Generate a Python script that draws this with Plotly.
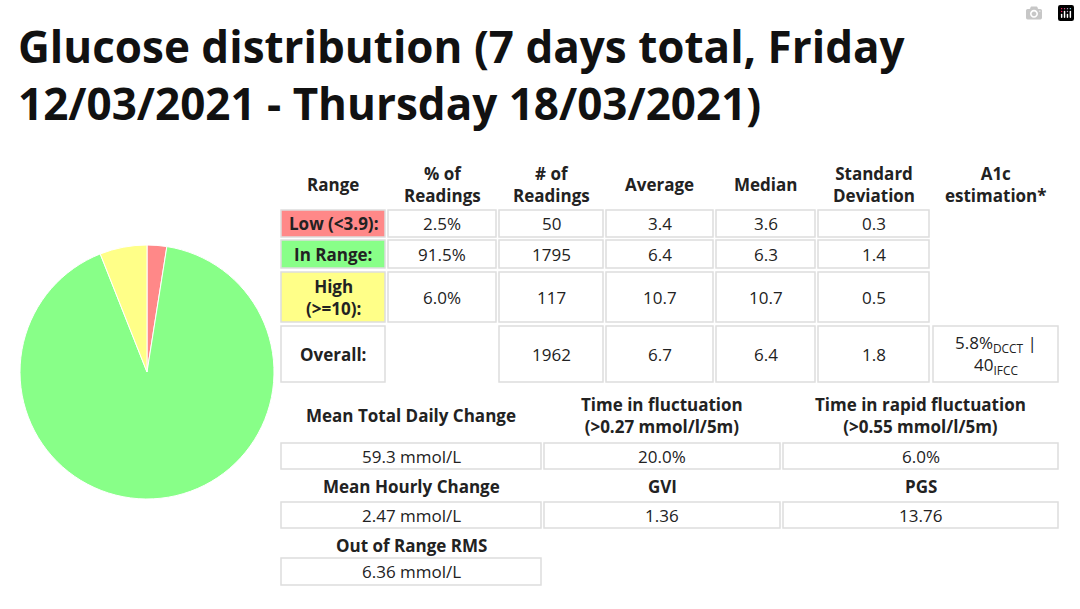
import plotly.graph_objects as go

ranges = ["Low (<3.9):", "In Range:", "High<br>(>=10):", "Overall:"]
pct = ["2.5%", "91.5%", "6.0%", ""]
counts = ["50", "1795", "117", "1962"]
avg = ["3.4", "6.4", "10.7", "6.7"]
med = ["3.6", "6.3", "10.7", "6.4"]
sd = ["0.3", "1.4", "0.5", "1.8"]
a1c = "5.8%<sub>DCCT</sub> |<br>40<sub>IFCC</sub>"
headers = ["Range", "% of<br>Readings", "# of<br>Readings", "Average", "Median", "Standard<br>Deviation", "A1c<br>estimation*"]
pie_labels = ["Low", "In Range", "High"]
pie_values = [2.5, 91.5, 6.0]
pie_colors = ["#ff8888", "#88ff88", "#ffff88"]
stat_labels = [["Mean Total Daily Change", "Time in fluctuation<br>(>0.27 mmol/l/5m)", "Time in rapid fluctuation<br>(>0.55 mmol/l/5m)"],
               ["Mean Hourly Change", "GVI", "PGS"],
               ["Out of Range RMS"]]
stat_values = [["59.3 mmol/L", "20.0%", "6.0%"],
               ["2.47 mmol/L", "1.36", "13.76"],
               ["6.36 mmol/L"]]

W, H = 1080, 609
fig = go.Figure()
fig.add_trace(go.Pie(labels=pie_labels, values=pie_values, sort=False, direction="clockwise",
                     rotation=0, marker=dict(colors=pie_colors, line=dict(color="white", width=1)),
                     textinfo="none", hoverinfo="label+percent", showlegend=False,
                     domain=dict(x=[20 / W, 274 / W], y=[(H - 499) / H, (H - 245) / H])))

FONT = "Open Sans"
FS = 17
shapes, anns = [], []
def cell(x0, x1, y0, y1, text, fill="white", bold=False, border=True):
    if border:
        shapes.append(dict(type="rect", xref="x", yref="y", x0=x0, x1=x1, y0=y0, y1=y1,
                           line=dict(color="#dddddd", width=1.5), fillcolor=fill, layer="below"))
    anns.append(dict(xref="x", yref="y", x=(x0 + x1) / 2, y=(y0 + y1) / 2, showarrow=False,
                     text=f"<b>{text}</b>" if bold else text,
                     font=dict(family=FONT, size=FS, color="#222")))

cols = [(281, 385), (388, 496), (499, 603), (606, 713), (716, 815), (818, 929), (933, 1058)]
rows = [(210, 237), (240, 268), (272, 322), (326, 382)]
fills = ["#ff8888", "#88ff88", "#ffff88", "white"]
for (x0, x1), h in zip(cols, headers):
    cell(x0, x1, 160, 208, h, bold=True, border=False)
for i, (y0, y1) in enumerate(rows):
    cell(*cols[0], y0, y1, ranges[i], fill=fills[i], bold=True)
    for j, arr in enumerate([pct, counts, avg, med, sd]):
        if i == 3 and j == 0:
            continue
        cell(*cols[j + 1], y0, y1, arr[i])
cell(*cols[6], 326, 382, a1c)

scols = [(281, 541), (544, 780), (783, 1058)]
srows = [((393, 437), (443, 469)), ((474, 498), (502, 528)), ((533, 557), (558, 585))]
for r, ((ly0, ly1), (vy0, vy1)) in enumerate(srows):
    for c, lab in enumerate(stat_labels[r]):
        cell(*scols[c], ly0, ly1, lab, bold=True, border=False)
        cell(*scols[c], vy0, vy1, stat_values[r][c])

anns.append(dict(xref="x", yref="y", x=16, y=74, xanchor="left", yanchor="middle", showarrow=False, align="left",
                 text="<b>Glucose distribution (7 days total, Friday<br>12/03/2021 - Thursday 18/03/2021)</b>",
                 font=dict(family=FONT, size=44, color="#111")))

fig.update_layout(width=W, height=H, margin=dict(l=0, r=0, t=0, b=0), paper_bgcolor="white",
                  plot_bgcolor="white", shapes=shapes, annotations=anns,
                  xaxis=dict(range=[0, W], visible=False, fixedrange=True),
                  yaxis=dict(range=[H, 0], visible=False, fixedrange=True))
fig.write_html("out.html")
with open("out.html", encoding="utf-8") as f:
    html = f.read()
html = html.replace("<head>", "<head><style>html,body{margin:0;padding:0;overflow:hidden}</style>", 1)
with open("out.html", "w", encoding="utf-8") as f:
    f.write(html)
